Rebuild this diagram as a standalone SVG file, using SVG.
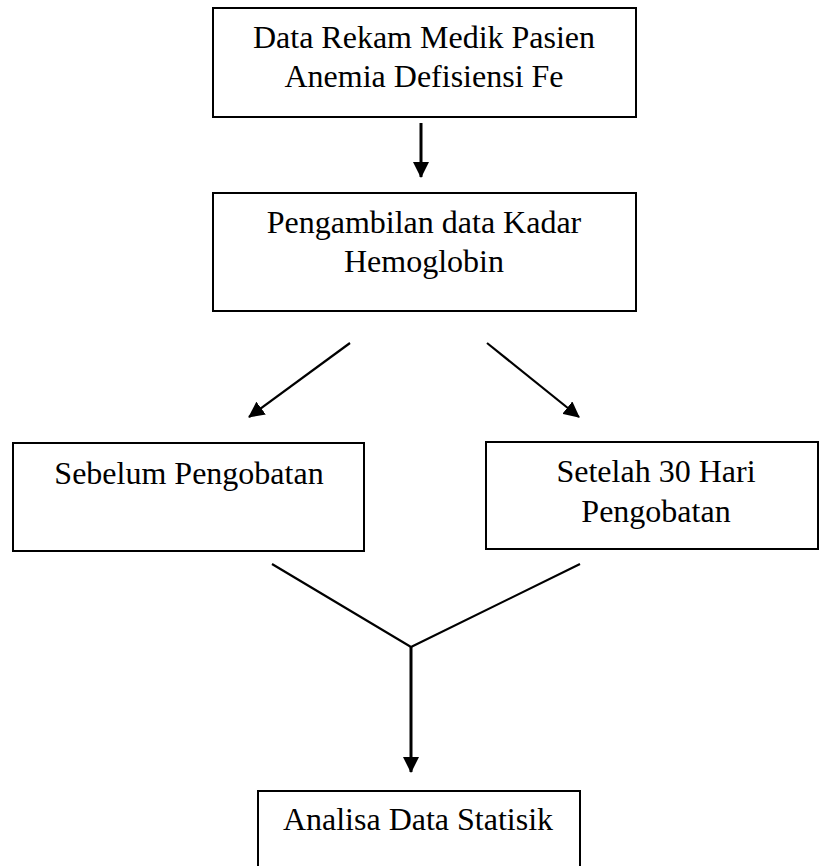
<svg xmlns="http://www.w3.org/2000/svg" width="819" height="866" viewBox="0 0 819 866">
<style>
.box{fill:#fff;stroke:#000;stroke-width:2}
.t{font-family:"Liberation Serif","Times New Roman",serif;font-size:32px;fill:#000;text-anchor:middle}
.c{stroke:#000;stroke-width:2.2;fill:none}
.ca{stroke:#000;stroke-width:3;fill:none}
</style>
<defs>
<marker id="ah" markerUnits="userSpaceOnUse" markerWidth="16" markerHeight="16" viewBox="0 0 16 16" refX="15" refY="8" orient="auto">
<path d="M0,0 L16,8 L0,16 Z" fill="#000"/>
</marker>
</defs>
<rect width="819" height="866" fill="#fff"/>
<g id="connectors">
<line class="ca" x1="421" y1="123" x2="421" y2="177" marker-end="url(#ah)"/>
<line class="c" x1="350" y1="343" x2="249" y2="417" marker-end="url(#ah)"/>
<line class="c" x1="487" y1="343" x2="579" y2="417" marker-end="url(#ah)"/>
<polyline class="c" points="272,564 411,647 580,564"/>
<line class="ca" x1="411" y1="647" x2="411" y2="772" marker-end="url(#ah)"/>
</g>
<g id="n1">
<rect class="box" x="213" y="8" width="423" height="109"/>
<text class="t" x="424" y="48">Data Rekam Medik Pasien</text>
<text class="t" x="424" y="87">Anemia Defisiensi Fe</text>
</g>
<g id="n2">
<rect class="box" x="213" y="193" width="423" height="118"/>
<text class="t" x="424" y="233">Pengambilan data Kadar</text>
<text class="t" x="424" y="272">Hemoglobin</text>
</g>
<g id="n3">
<rect class="box" x="13" y="443" width="351" height="108"/>
<text class="t" x="189" y="484">Sebelum Pengobatan</text>
</g>
<g id="n4">
<rect class="box" x="486" y="442" width="332" height="107"/>
<text class="t" x="656" y="482">Setelah 30 Hari</text>
<text class="t" x="656" y="522">Pengobatan</text>
</g>
<g id="n5">
<rect class="box" x="258" y="791" width="322" height="80"/>
<text class="t" x="418" y="830">Analisa Data Statisik</text>
</g>
</svg>
